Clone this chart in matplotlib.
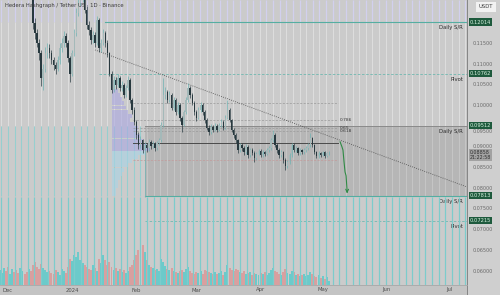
import matplotlib
matplotlib.use("Agg")
import matplotlib.pyplot as plt
import numpy as np
from datetime import date

# ── Data (daily HBAR/USDT, day offsets from 2023-12-01) ───────────────────
DEC1 = date(2023, 12, 1)
FIRST_DAY = -4          # 2023-11-27
FIRST_OPEN = 0.1290

closes = [
    0.1300, 0.1320, 0.1350, 0.1330, 0.1310, 0.1340, 0.1360, 0.1330, 0.1310, 0.1290,
    0.1320, 0.1340, 0.1310, 0.1300, 0.1320, 0.1290, 0.1199, 0.1175, 0.1150, 0.1126,
    0.1065, 0.1089, 0.1126, 0.1138, 0.1126, 0.1109, 0.1097, 0.1089, 0.1109, 0.1138,
    0.1150, 0.1167, 0.1150, 0.1114, 0.1077, 0.1126, 0.1175, 0.1223, 0.1247, 0.1262,
    0.1270, 0.1230, 0.1194, 0.1182, 0.1158, 0.1170, 0.1150, 0.1206, 0.1138, 0.1150,
    0.1175, 0.1150, 0.1126, 0.1077, 0.1037, 0.1061, 0.1049, 0.1066, 0.1042, 0.1049,
    0.1025, 0.1042, 0.1061, 0.1013, 0.0989, 0.0960, 0.0929, 0.0904, 0.0916, 0.0892,
    0.0904, 0.0897, 0.0912, 0.0902, 0.0907, 0.0897, 0.0909, 0.0916, 0.0953, 0.1025,
    0.1032, 0.1013, 0.1025, 0.0994, 0.1013, 0.0984, 0.1001, 0.0970, 0.0953, 0.0984,
    0.1013, 0.1042, 0.1025, 0.1006, 0.0984, 0.0970, 0.0989, 0.1001, 0.0984, 0.0965,
    0.0946, 0.0936, 0.0948, 0.0941, 0.0951, 0.0941, 0.0953, 0.0960, 0.0946, 0.0970,
    0.0989, 0.0965, 0.0941, 0.0929, 0.0916, 0.0892, 0.0904, 0.0897, 0.0887, 0.0900,
    0.0880, 0.0892, 0.0885, 0.0873, 0.0883, 0.0890, 0.0880, 0.0887, 0.0883, 0.0892,
    0.0897, 0.0916, 0.0929, 0.0904, 0.0892, 0.0880, 0.0887, 0.0868, 0.0854, 0.0863,
    0.0880, 0.0904, 0.0892, 0.0897, 0.0885, 0.0892, 0.0887, 0.0892, 0.0897, 0.0904,
    0.0921, 0.0904, 0.0887, 0.0878, 0.0885, 0.0880, 0.0887, 0.0878, 0.0885, 0.0886,
]
highs = [
    0.1315, 0.1335, 0.1365, 0.1370, 0.1345, 0.1355, 0.1380, 0.1370, 0.1340, 0.1320,
    0.1335, 0.1355, 0.1350, 0.1325, 0.1330, 0.1330, 0.1300, 0.1210, 0.1185, 0.1160,
    0.1135, 0.1100, 0.1140, 0.1150, 0.1148, 0.1135, 0.1118, 0.1105, 0.1120, 0.1150,
    0.1162, 0.1180, 0.1175, 0.1158, 0.1120, 0.1135, 0.1185, 0.1235, 0.1262, 0.1280,
    0.1290, 0.1280, 0.1240, 0.1205, 0.1190, 0.1180, 0.1178, 0.1215, 0.1210, 0.1160,
    0.1185, 0.1180, 0.1158, 0.1130, 0.1082, 0.1070, 0.1068, 0.1075, 0.1070, 0.1058,
    0.1055, 0.1050, 0.1070, 0.1065, 0.1018, 0.0995, 0.0965, 0.0935, 0.0925, 0.0920,
    0.0912, 0.0910, 0.0918, 0.0916, 0.0913, 0.0911, 0.0915, 0.0922, 0.0960, 0.1066,
    0.1045, 0.1038, 0.1035, 0.1030, 0.1020, 0.1018, 0.1008, 0.1005, 0.0975, 0.0990,
    0.1020, 0.1054, 0.1048, 0.1030, 0.1010, 0.0990, 0.0995, 0.1008, 0.1005, 0.0988,
    0.0970, 0.0952, 0.0955, 0.0953, 0.0957, 0.0955, 0.0958, 0.0966, 0.0964, 0.0976,
    0.1013, 0.0993, 0.0968, 0.0945, 0.0933, 0.0920, 0.0910, 0.0908, 0.0901, 0.0906,
    0.0904, 0.0897, 0.0896, 0.0889, 0.0888, 0.0895, 0.0894, 0.0892, 0.0891, 0.0897,
    0.0903, 0.0922, 0.0941, 0.0933, 0.0908, 0.0896, 0.0892, 0.0890, 0.0872, 0.0868,
    0.0885, 0.0910, 0.0908, 0.0902, 0.0900, 0.0896, 0.0895, 0.0896, 0.0901, 0.0909,
    0.0933, 0.0924, 0.0907, 0.0890, 0.0889, 0.0888, 0.0891, 0.0889, 0.0888, 0.0890,
]
lows = [
    0.1280, 0.1290, 0.1310, 0.1320, 0.1295, 0.1300, 0.1330, 0.1320, 0.1295, 0.1275,
    0.1280, 0.1310, 0.1300, 0.1285, 0.1290, 0.1275, 0.1185, 0.1160, 0.1140, 0.1110,
    0.1046, 0.1037, 0.1080, 0.1115, 0.1115, 0.1100, 0.1085, 0.1077, 0.1082, 0.1100,
    0.1130, 0.1140, 0.1140, 0.1105, 0.1057, 0.1070, 0.1120, 0.1168, 0.1215, 0.1240,
    0.1250, 0.1222, 0.1185, 0.1170, 0.1148, 0.1150, 0.1140, 0.1145, 0.1130, 0.1128,
    0.1145, 0.1140, 0.1118, 0.1070, 0.1030, 0.1032, 0.1040, 0.1045, 0.1035, 0.1036,
    0.1018, 0.1020, 0.1038, 0.1005, 0.0980, 0.0952, 0.0920, 0.0895, 0.0898, 0.0885,
    0.0779, 0.0888, 0.0890, 0.0895, 0.0896, 0.0890, 0.0892, 0.0904, 0.0912, 0.0948,
    0.1015, 0.1005, 0.1008, 0.0988, 0.0990, 0.0978, 0.0980, 0.0962, 0.0936, 0.0950,
    0.0980, 0.1008, 0.1018, 0.1000, 0.0978, 0.0962, 0.0966, 0.0985, 0.0978, 0.0958,
    0.0940, 0.0928, 0.0932, 0.0935, 0.0937, 0.0936, 0.0938, 0.0949, 0.0941, 0.0942,
    0.0966, 0.0960, 0.0935, 0.0922, 0.0910, 0.0885, 0.0888, 0.0890, 0.0880, 0.0883,
    0.0874, 0.0876, 0.0879, 0.0864, 0.0869, 0.0879, 0.0875, 0.0876, 0.0878, 0.0879,
    0.0888, 0.0893, 0.0911, 0.0899, 0.0886, 0.0874, 0.0875, 0.0862, 0.0844, 0.0849,
    0.0859, 0.0876, 0.0887, 0.0888, 0.0880, 0.0881, 0.0883, 0.0883, 0.0888, 0.0893,
    0.0900, 0.0900, 0.0882, 0.0873, 0.0874, 0.0876, 0.0877, 0.0874, 0.0875, 0.0880,
]
volumes = [
    150, 120, 170, 140, 180, 110, 160, 130, 150, 120, 170, 140, 110, 130, 160,
    140, 200, 230, 180, 160, 210,
    170, 150, 130, 140, 120, 110, 150, 130, 100, 160, 140, 120,
    180, 260, 240, 300, 280, 330, 250, 220, 200,
    180, 160, 150, 200, 170, 140, 260, 220,
    300, 250, 200, 230, 180,
    150, 170, 140, 160, 130, 150, 120, 140, 180, 200,
    250, 300, 350, 380, 400, 330,
    250, 200, 180, 170, 150, 160, 140,
    260, 230, 190, 160, 150, 170, 140,
    130, 120, 140, 150, 130, 160, 180, 140, 120, 110,
    130, 120, 140, 110, 150, 140, 130, 120, 110, 130,
    110, 120, 140, 100, 130, 200, 170, 150, 140, 160,
    150, 130, 120, 140, 110, 120, 130, 100, 120, 110,
    100, 120, 110, 130, 100, 120, 150, 170, 140, 130,
    110, 100, 130, 160, 120, 110, 140, 130, 100, 110,
    90, 100, 110, 90, 100, 130, 110, 90, 80, 100,
    70, 90, 60, 80, 40,
]

# visible-range volume profile (price bin centre, length in days)
vp_prices = [0.0785 + 0.001 * i for i in range(26)]
vp_widths = [2, 2, 3, 3, 4, 5, 6, 8, 10, 13, 16, 18, 17, 15, 14, 12, 13, 11, 9, 10,
             8, 7, 6, 5, 4, 3]

# horizontal levels: (price, start day, label)
levels = [
    (0.12014, 47, "Daily S/R"),
    (0.10762, 44, "Pivot"),
    (0.09512, 66, "Daily S/R"),
    (0.07813, 66, "Daily S/R"),
    (0.07215, 66, "Pivot"),
]
fib_levels = [0.1007, 0.0965, 0.0945, 0.0938, 0.0909, 0.0868]
fib_labels = ["", "0.786", "0.65", "0.618", "", ""]
fib_span = (60.4, 159.5)

trend_days = [42, 221.7]
trend_prices = [0.1134, 0.0803]

proj_days = [160.4, 161.3, 161.8, 162.3, 162.8, 163.3, 163.8]
proj_prices = [0.0912, 0.0900, 0.0892, 0.0864, 0.0839, 0.0830, 0.0792]

tick_prices = [0.115, 0.110, 0.105, 0.100, 0.095, 0.090, 0.085, 0.080,
               0.075, 0.070, 0.065, 0.060]
month_labels = ["Dec", "2024", "Feb", "Mar", "Apr", "May", "Jun", "Jul"]
month_dates = [date(2023, 12, 1), date(2024, 1, 1), date(2024, 2, 1), date(2024, 3, 1),
               date(2024, 4, 1), date(2024, 5, 1), date(2024, 6, 1), date(2024, 7, 1)]
last_price = 0.08858

# ── Figure ───────────────────────────────────────────────────────────────
XMIN, XMAX = -3.86, 221.7
YMIN, YMAX = 0.05662, 0.12546

fig = plt.figure(figsize=(5.0, 2.95), dpi=100, facecolor="#c9c9c9")
ax = fig.add_axes([0, 10 / 295, 467 / 500, 285 / 295])
ax.set_xlim(XMIN, XMAX)
ax.set_ylim(YMIN, YMAX)
ax.set_facecolor("#cbcbcb")
ax.set_xticks([])
ax.set_yticks([])
for s in ax.spines.values():
    s.set_visible(False)

# price panel + time panel backgrounds (behind the axes)
fig.patches.append(plt.Rectangle((467 / 500, 0), 33 / 500, 1, transform=fig.transFigure,
                                 fc="#cfcfcf", ec="none", zorder=-5))
fig.patches.append(plt.Rectangle((0, 0), 467 / 500, 10 / 295, transform=fig.transFigure,
                                 fc="#c4c4c4", ec="none", zorder=-5))

# S/R zone box
ax.add_patch(plt.Rectangle((66, 0.07813), XMAX - 66, 0.09512 - 0.07813,
                           fc="#b6b6b6", ec="none", zorder=0.5))

# vertical stripes (screenshot grid texture)
stripe_x = np.arange(-3.2, XMAX, 3.2)
ax.vlines(stripe_x, 0.12014, YMAX, color="#d2d0ee", lw=0.9, zorder=0.6)
ax.vlines(stripe_x, 0.09512, 0.12014, color="#dedede", lw=0.7, zorder=0.6)
ax.vlines(stripe_x[stripe_x >= 66], 0.07813, 0.09512, color="#c6c6c6", lw=0.7, zorder=0.6)
ax.vlines(stripe_x[stripe_x < 66], 0.07813, 0.09512, color="#96cfcf", lw=0.8, zorder=0.6)

# volume profile
for p, w in zip(vp_prices, vp_widths):
    c = "#aaa7e2" if p >= 0.089 else "#a9d4e6"
    ax.barh(p, w, height=0.00095, left=50, color=c, alpha=0.6, zorder=1, linewidth=0)

# levels
for price, start, label in levels:
    if label == "Pivot":
        ax.plot([start, XMAX], [price, price], color="#6fb8b0", lw=0.6,
                ls=(0, (3, 2)), zorder=2)
    elif price == 0.09512:
        ax.plot([start, XMAX], [price, price], color="#8a8a8a", lw=0.7, zorder=2)
    else:
        ax.plot([start, XMAX], [price, price], color="#55aea2", lw=0.8, zorder=2)
    ax.text(219.8, price - 0.0007, label, ha="right", va="top", fontsize=3.8,
            color="#2a2a2a", zorder=6)

# fibonacci levels
for p, lab in zip(fib_levels, fib_labels):
    if p == 0.0909:
        ax.plot(fib_span, [p, p], color="#4a4a4a", lw=0.7, zorder=2)
    elif p == 0.0868:
        ax.plot(fib_span, [p, p], color="#c49a9a", lw=0.5, ls=(0, (3, 2)), zorder=2)
    else:
        ax.plot(fib_span, [p, p], color="#9a9a9a", lw=0.5, ls=(0, (3, 2)), zorder=2)
    if lab:
        ax.text(fib_span[1] + 0.8, p, lab, ha="left", va="center", fontsize=3.2,
                color="#3a3a3a", zorder=6)

# trendline
ax.plot(trend_days, trend_prices, color="#4a4a4a", lw=0.6, ls=(0, (1, 1.6)), zorder=3)

# candles
days = np.arange(FIRST_DAY, FIRST_DAY + len(closes))
opens = [FIRST_OPEN] + closes[:-1]
up = np.array(closes) >= np.array(opens)
body_lo = np.minimum(opens, closes)
body_h = np.abs(np.array(closes) - np.array(opens))
col = np.where(up, "#a4b9b9", "#28393f")
ax.vlines(days, lows, highs, color=np.where(up, "#6fb3b3", "#2c3e44"), lw=0.5, zorder=4)
ax.bar(days, np.maximum(body_h, 0.00012), bottom=body_lo, width=0.7, color=col,
       zorder=4.5, linewidth=0)

# projection arrow
ax.plot(proj_days, proj_prices, color="#2f8a45", lw=0.8, zorder=5)
ax.annotate("", xy=(proj_days[-1], 0.0781), xytext=(proj_days[-1], 0.0800),
            arrowprops=dict(arrowstyle="->", color="#2f8a45", lw=0.8,
                            mutation_scale=5), zorder=5)

# volume pane
vax = fig.add_axes(ax.get_position(), frameon=False)
vax.set_xlim(XMIN, XMAX)
vax.set_ylim(0, 2850)
vax.set_xticks([])
vax.set_yticks([])
vax.patch.set_visible(False)
vax.bar(days, volumes, width=0.95, color=np.where(up, "#6ccaca", "#d99f9f"), linewidth=0)
frac_top = (285 - 197) / 285
vax.vlines(stripe_x, 0, 2850 * frac_top, color="#7ccccc", lw=0.9, zorder=3)

# price axis labels and tags
ytr = ax.get_yaxis_transform()
for p in tick_prices:
    # the 0.09500 label peeks out just under the 0.09512 tag
    yoff = -0.00135 if p == 0.095 else 0.0
    ax.text(1 + 6 / 467, p + yoff, f"{p:.5f}", transform=ytr, ha="left", va="center",
            fontsize=3.5, color="#6a6a6a", clip_on=False, zorder=7)
for price, _, _ in levels:
    ax.text(1 + 3 / 467, price, f"{price:.5f}", transform=ytr, ha="left", va="center",
            fontsize=3.7, color="#d8f2e0", clip_on=False, zorder=8,
            bbox=dict(boxstyle="square,pad=0.2", fc="#1e5a3d", ec="none"))
ax.text(1 + 3 / 467, 0.0880, f"{last_price:.5f}\n21:22:58", transform=ytr,
        ha="left", va="center", fontsize=3.4, color="#2e2e2e", clip_on=False,
        linespacing=1.0, zorder=8,
        bbox=dict(boxstyle="square,pad=0.2", fc="#a2a2a2", ec="none"))
fig.text(486 / 500, 1 - 7 / 295, "USDT", ha="center", va="center", fontsize=3.8,
         color="#3a3a3a", bbox=dict(boxstyle="square,pad=0.5", fc="#f2f2f2", ec="none"))
fig.add_artist(plt.Line2D([467 / 500, 467 / 500], [0, 1], transform=fig.transFigure,
                          color="#858585", lw=0.7))
fig.add_artist(plt.Line2D([0, 467 / 500], [10 / 295, 10 / 295], transform=fig.transFigure,
                          color="#a8a8a8", lw=0.6))

# time axis labels
xtr = ax.get_xaxis_transform()
for lab, d in zip(month_labels, month_dates):
    ax.text((d - DEC1).days, -5 / 285, lab, transform=xtr, ha="center", va="center",
            fontsize=3.8, color="#4e4e4e", clip_on=False)

fig.text(5 / 500, 1 - 6 / 295, "Hedera Hashgraph / Tether US · 1D · Binance",
         ha="left", va="center", fontsize=3.8, color="#3a3a3a")

fig.savefig("out.png", dpi=100, facecolor=fig.get_facecolor())
